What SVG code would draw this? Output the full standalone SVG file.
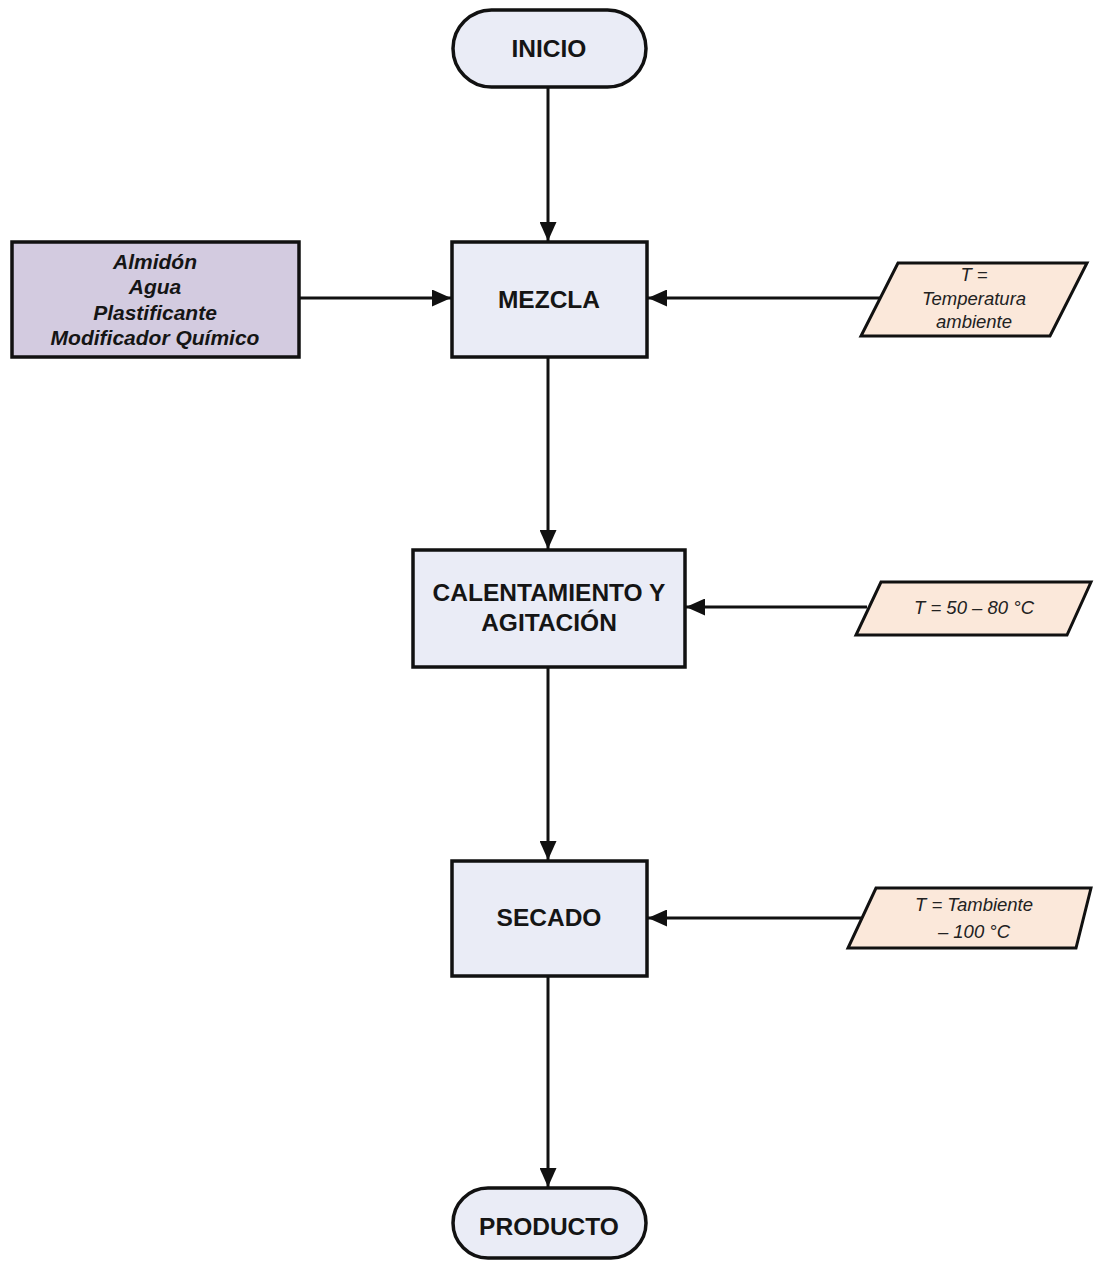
<svg xmlns="http://www.w3.org/2000/svg" width="1094" height="1264" viewBox="0 0 1094 1264">
  <style>
    .proc { fill: #eaecf6; stroke: #111; stroke-width: 3.5; }
    .term { fill: #eaecf6; stroke: #111; stroke-width: 3.5; }
    .input { fill: #d3cbe0; stroke: #111; stroke-width: 3.5; }
    .data { fill: #fbe8da; stroke: #111; stroke-width: 3; stroke-linejoin: miter; }
    .lbl { font-family: "Liberation Sans", Arial, sans-serif; font-weight: bold; font-size: 24.5px; fill: #151515; text-anchor: middle; }
    .ilbl { font-family: "Liberation Sans", Arial, sans-serif; font-weight: bold; font-style: italic; font-size: 21px; fill: #151515; text-anchor: middle; }
    .dlbl { font-family: "Liberation Sans", Arial, sans-serif; font-style: italic; font-size: 18.5px; fill: #222; text-anchor: middle; }
    .edge { fill: none; stroke: #111; stroke-width: 3; }
  </style>
  <defs>
    <marker id="arrow" viewBox="0 0 19 17" refX="19" refY="8.5" markerWidth="19" markerHeight="17" markerUnits="userSpaceOnUse" orient="auto">
      <path d="M0,0 L19,8.5 L0,17 Z" fill="#111"/>
    </marker>
  </defs>
  <rect width="1094" height="1264" fill="#ffffff"/>

  <g id="connectors">
    <line class="edge" x1="548" y1="88" x2="548" y2="241" marker-end="url(#arrow)"/>
    <line class="edge" x1="299" y1="298" x2="451" y2="298" marker-end="url(#arrow)"/>
    <line class="edge" x1="881" y1="298" x2="648" y2="298" marker-end="url(#arrow)"/>
    <line class="edge" x1="548" y1="358" x2="548" y2="549" marker-end="url(#arrow)"/>
    <line class="edge" x1="867" y1="607" x2="686" y2="607" marker-end="url(#arrow)"/>
    <line class="edge" x1="548" y1="668" x2="548" y2="860" marker-end="url(#arrow)"/>
    <line class="edge" x1="861" y1="918" x2="648" y2="918" marker-end="url(#arrow)"/>
    <line class="edge" x1="548" y1="977" x2="548" y2="1187" marker-end="url(#arrow)"/>
  </g>

  <g id="inicio">
    <rect class="term" x="453" y="10" width="193" height="77" rx="38.5"/>
    <text class="lbl" x="549" y="57">INICIO</text>
  </g>

  <g id="insumos">
    <rect class="input" x="12" y="242" width="287" height="115"/>
    <text class="ilbl" x="155" y="269">Almidón</text>
    <text class="ilbl" x="155" y="294">Agua</text>
    <text class="ilbl" x="155" y="320">Plastificante</text>
    <text class="ilbl" x="155" y="345">Modificador Químico</text>
  </g>

  <g id="mezcla">
    <rect class="proc" x="452" y="242" width="195" height="115"/>
    <text class="lbl" x="549" y="308">MEZCLA</text>
  </g>

  <g id="temp-ambiente">
    <polygon class="data" points="898,263 1087,263 1050,336 861,336"/>
    <text class="dlbl" x="974" y="281">T =</text>
    <text class="dlbl" x="974" y="305">Temperatura</text>
    <text class="dlbl" x="974" y="328">ambiente</text>
  </g>

  <g id="calentamiento">
    <rect class="proc" x="413" y="550" width="272" height="117"/>
    <text class="lbl" x="549" y="601">CALENTAMIENTO Y</text>
    <text class="lbl" x="549" y="631">AGITACIÓN</text>
  </g>

  <g id="temp-50-80">
    <polygon class="data" points="881,582 1091,582 1067,635 856,635"/>
    <text class="dlbl" x="974" y="614">T = 50 – 80 °C</text>
  </g>

  <g id="secado">
    <rect class="proc" x="452" y="861" width="195" height="115"/>
    <text class="lbl" x="549" y="926">SECADO</text>
  </g>

  <g id="temp-secado">
    <polygon class="data" points="876,888 1091,888 1076,948 848,948"/>
    <text class="dlbl" x="974" y="911">T = Tambiente</text>
    <text class="dlbl" x="974" y="938">– 100 °C</text>
  </g>

  <g id="producto">
    <rect class="term" x="453" y="1188" width="193" height="70" rx="35"/>
    <text class="lbl" x="549" y="1235">PRODUCTO</text>
  </g>
</svg>
